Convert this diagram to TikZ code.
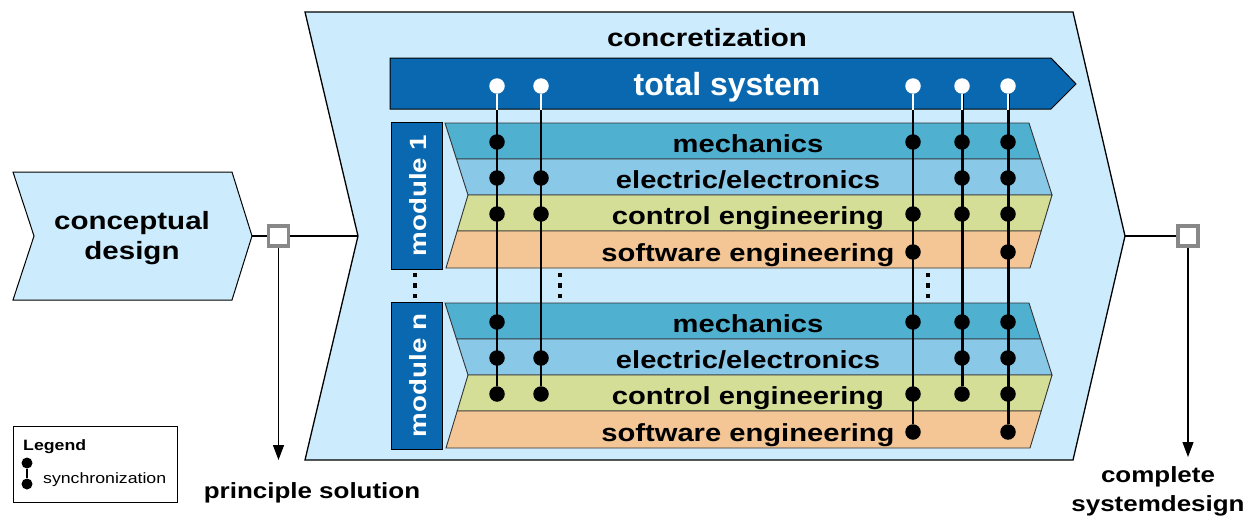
\documentclass[tikz,border=0pt]{standalone}
\usepackage{fontspec}
\setmainfont{Liberation Sans}
\newfontfamily\wf[FakeStretch=1.18]{Liberation Sans}
\usetikzlibrary{arrows.meta}
\definecolor{bgblue}{RGB}{204,235,252}
\definecolor{dblue}{RGB}{9,104,176}
\definecolor{mechc}{RGB}{79,176,208}
\definecolor{elecc}{RGB}{138,200,232}
\definecolor{ctrlc}{RGB}{212,222,150}
\definecolor{softc}{RGB}{244,198,150}
\definecolor{sqgray}{RGB}{136,136,136}
\pgfdeclarelayer{back}
\pgfdeclarelayer{mid}
\pgfsetlayers{back,mid,main}
\begin{document}
\begin{tikzpicture}[x=1pt,y=-1pt,
  shapeline/.style={draw=black, line width=1.3pt},
  bandline/.style={draw=black!80, line width=0.9pt},
  bigtxt/.style={font=\wf\bfseries\fontsize{25}{30}\selectfont, inner sep=0pt},
  bandtxt/.style={font=\wf\bfseries\fontsize{24.7}{30}\selectfont, inner sep=0pt, anchor=base},
  lbltxt/.style={font=\wf\bfseries\fontsize{22}{29}\selectfont, inner sep=0pt, align=center},
  modtxt/.style={font=\wf\bfseries\fontsize{23.5}{28}\selectfont, text=white, inner sep=0pt, rotate=90},
  sdot/.style={circle, fill=black, inner sep=0pt, minimum size=15.5pt},
  wdot/.style={circle, fill=white, inner sep=0pt, minimum size=15.5pt},
  ldot/.style={circle, fill=black, inner sep=0pt, minimum size=11pt},
  sline/.style={draw=black, line width=2.3pt},
  sthick/.style={draw=black, line width=3pt},
  wline/.style={draw=white, line width=2.8pt},
  conn/.style={draw=black, line width=2pt},
  arr/.style={draw=black, line width=1.2pt, -{Triangle[length=15pt,width=11pt]}},
  sqbox/.style={draw=sqgray, fill=white, line width=3.5pt, minimum size=20pt, inner sep=0pt},
  vdot/.style={fill=black}
]
\useasboundingbox (0,0) rectangle (1255,522);

% ---------- background shapes ----------
\begin{pgfonlayer}{back}
  % conceptual design chevron
  \filldraw[fill=bgblue, draw=black, line width=1pt]
    (13,172) -- (232,172) -- (252,236) -- (232,300) -- (13,300) -- (34,236) -- cycle;
  % concretization chevron
  \filldraw[fill=bgblue, shapeline]
    (305,12) -- (1073,12) -- (1125,236) -- (1073,460) -- (305,460) -- (358,236) -- cycle;
  % total system arrow
  \filldraw[fill=dblue, draw=black, line width=1pt]
    (390,58) -- (1051,58) -- (1076,84) -- (1051,109) -- (390,109) -- cycle;
  % modules
  \foreach \T in {123,303}{
    \begin{scope}[shift={(0,\T)}]
      \filldraw[fill=mechc, bandline] (445,0) -- (1029,0) -- (1040.5,36) -- (456.5,36) -- cycle;
      \filldraw[fill=elecc, bandline] (456.5,36) -- (1040.5,36) -- (1052,72) -- (468,72) -- cycle;
      \filldraw[fill=ctrlc, bandline] (468,72) -- (1052,72) -- (1041.2,108) -- (457.2,108) -- cycle;
      \filldraw[fill=softc, bandline] (457.2,108) -- (1041.2,108) -- (1030,145) -- (446,145) -- cycle;
      \filldraw[fill=dblue, draw=black, line width=1pt] (391,-1) rectangle (442,146);
    \end{scope}
  }
  % continuation dots
  \foreach \xx in {415,560,928}{
    \foreach \yy in {275,285.5,296}{
      \fill[vdot] (\xx-2.4,\yy-2.4) rectangle (\xx+2.4,\yy+2.4);
    }
  }
  % legend frame
  \draw[black, line width=1pt] (13,426) rectangle (177,502);
\end{pgfonlayer}

% ---------- texts ----------
\node[bigtxt, anchor=base] (conc) at (707,46) {concretization};
\node[font=\bfseries\fontsize{32}{36}\selectfont, text=white, inner sep=0pt, anchor=base] (tsys) at (727,95) {total system};
\node[bigtxt, align=center] (cdes) at (132,238.5) {conceptual\\design};
\node[lbltxt, anchor=base] (psol) at (312,498) {principle solution};
\node[lbltxt] (csys) at (1158,491) {complete\\systemdesign};
\node[font=\wf\bfseries\fontsize{15}{18}\selectfont, inner sep=0pt, anchor=base west] (leg) at (23,450) {Legend};
\node[font=\wf\fontsize{15}{18}\selectfont, inner sep=0pt, anchor=base west] (legs) at (43,483) {synchronization};

\foreach \k/\T in {1/123, n/303}{
  \begin{scope}[shift={(0,\T)}]
    \node[modtxt] (mod\k) at (418,72.5) {module \k};
    \node[bandtxt] (mech\k) at (748,29) {mechanics};
    \node[bandtxt] (elec\k) at (748,65) {electric/electronics};
    \node[bandtxt] (ctrl\k) at (748,101) {control engineering};
    \node[bandtxt] (soft\k) at (748,138) {software engineering};
    % synchronization dots
    \foreach \c/\xx/\bl in {a/497/{1/19,2/55,3/91}, b/541/{2/55,3/91}, c/913/{1/19,3/91,4/129}, d/962/{1/19,2/55,3/91}, e/1008/{1/19,2/55,3/91,4/129}}{
      \foreach \b/\yy in \bl {
        \node[sdot] (d\k\c\b) at (\xx,\yy) {};
      }
    }
  \end{scope}
}

% white synchronisation points in total system
\node[wdot] (ta) at (497,86) {};
\node[wdot] (tb) at (541,86) {};
\node[wdot] (tc) at (913,86) {};
\node[wdot] (td) at (962,86) {};
\node[wdot] (te) at (1008,86) {};
\coordinate (tsb) at (700,110);

% ---------- synchronisation lines ----------
\begin{pgfonlayer}{mid}
  \draw[sline] (ta) -- (dna3);
  \draw[sline] (tb) -- (dnb3);
  \draw[sline] (tc) -- (dnc4);
  \draw[sthick] (td) -- (dnd3);
  \draw[sthick] (te) -- (dne4);
  \foreach \t in {ta,tb,tc,td,te}{
    \draw[wline] (\t) -- (\t |- tsb);
  }
\end{pgfonlayer}

% ---------- connectors ----------
\coordinate (cdtip) at (252,236);
\coordinate (ccnotch) at (358,236);
\coordinate (cctip) at (1125,236);
\node[sqbox] (sq1) at (278.5,236) {};
\node[sqbox] (sq2) at (1188,236) {};
\coordinate (a1end) at (278.5,460);
\coordinate (a2end) at (1188,457);
\draw[conn] (cdtip) -- (sq1);
\draw[conn] (sq1) -- (ccnotch);
\draw[conn] (cctip) -- (sq2);
\draw[arr] (sq1) -- (a1end);
\draw[arr] (sq2) -- (a2end);

% legend symbol
\node[ldot] (l1) at (27,463) {};
\node[ldot] (l2) at (27,484) {};
\draw[sline] (l1) -- (l2);
\end{tikzpicture}
\end{document}
